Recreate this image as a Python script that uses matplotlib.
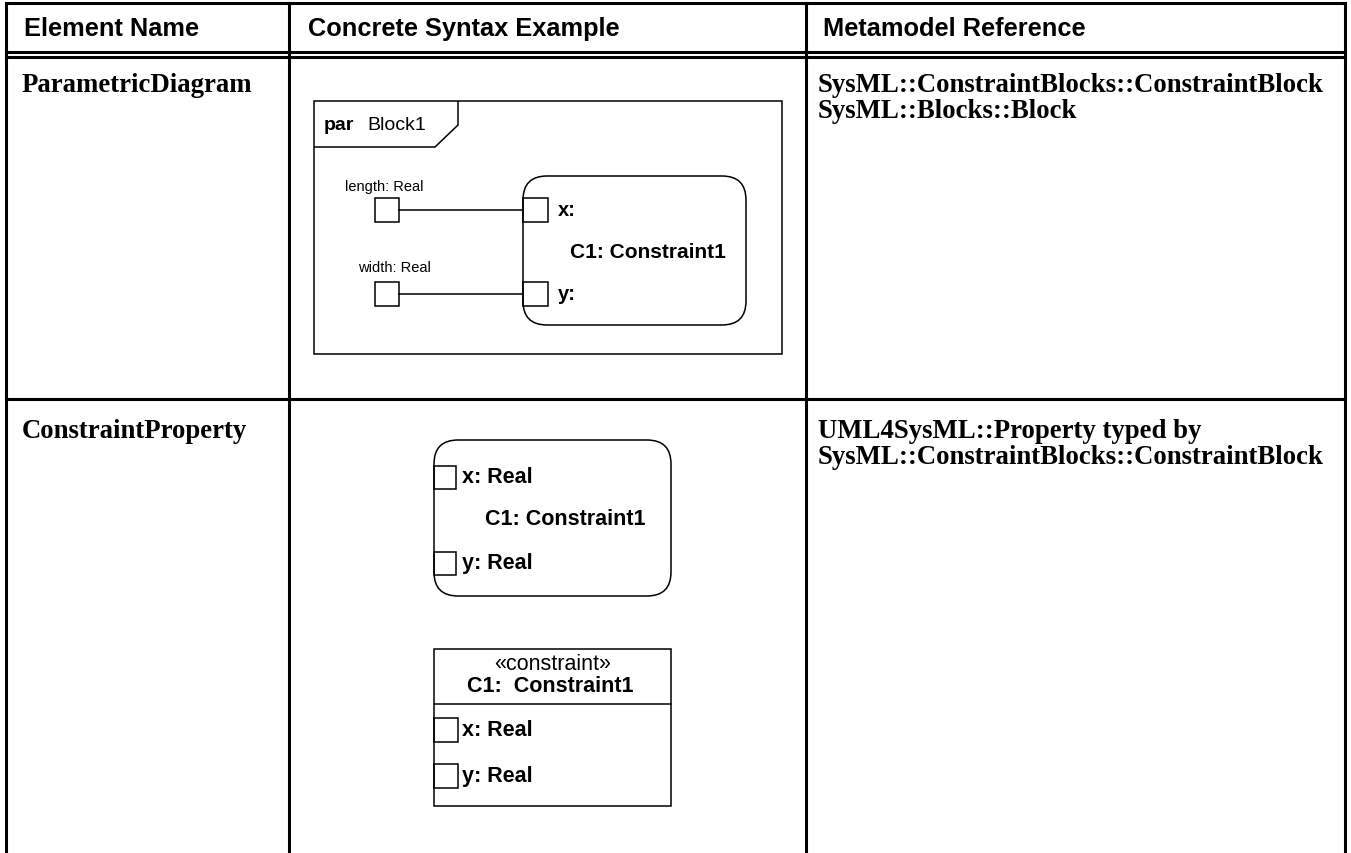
import matplotlib.pyplot as plt
from matplotlib.patches import Rectangle, FancyBboxPatch, Polygon

# table content
headers = ["Element Name", "Concrete Syntax Example", "Metamodel Reference"]
element_names = ["ParametricDiagram", "ConstraintProperty"]
metamodel_refs = [
    ["SysML::ConstraintBlocks::ConstraintBlock", "SysML::Blocks::Block"],
    ["UML4SysML::Property typed by", "SysML::ConstraintBlocks::ConstraintBlock"],
]

# diagram labels
frame_kind, frame_name = "par", "Block1"
outer_params = ["length: Real", "width: Real"]
inner_ports = ["x:", "y:"]
constraint_label = "C1: Constraint1"
typed_ports = ["x: Real", "y: Real"]
stereotype = "\u00abconstraint\u00bb"
compartment_label = "C1:  Constraint1"

SANS = "Liberation Sans"
SERIF = "Liberation Serif"
TBL_LW = 2.2
DIA_LW = 1.1
DIA_FS = 14.5
PROP_FS = 15.5

fig = plt.figure(figsize=(13.51, 8.54), dpi=100)
ax = fig.add_axes([0, 0, 1, 1])
ax.set_xlim(0, 1351)
ax.set_ylim(854, 0)
ax.axis("off")

# ---- table grid ----
col_x = [6, 289, 806, 1345]
for y in [4, 52.5, 57.5, 400]:
    ax.plot([col_x[0], col_x[-1]], [y, y], color="black", lw=TBL_LW, solid_capstyle="projecting")
for x in col_x:
    ax.plot([x, x], [4, 854], color="black", lw=TBL_LW, solid_capstyle="projecting")

head_x = [24, 308, 823]
for x, h in zip(head_x, headers):
    ax.text(x, 29, h, family=SANS, weight="bold", fontsize=18.3, va="center", ha="left")

row_y = [86, 432]
for y, name, refs in zip(row_y, element_names, metamodel_refs):
    ax.text(22, y, name, family=SERIF, weight="bold", fontsize=19.3, va="center", ha="left")
    for i, r in enumerate(refs):
        ax.text(818, y + i * 26, r, family=SERIF, weight="bold", fontsize=19.3,
                va="center", ha="left")

# ---- parametric diagram ----
ax.add_patch(Rectangle((314, 102), 468, 253, fill=False, lw=DIA_LW, ec="black"))
ax.add_patch(Polygon([(314, 148), (435, 148), (458, 126), (458, 102)], closed=False,
                     fill=False, lw=DIA_LW, ec="black"))
ax.text(324, 126, frame_kind, family=SANS, weight="bold", fontsize=14, va="center")
ax.text(367, 126, frame_name, family=SANS, fontsize=14, va="center")

ax.add_patch(FancyBboxPatch((523, 177), 223, 149, boxstyle="round,pad=0,rounding_size=24",
                            fill=False, lw=DIA_LW, ec="black"))
port_y = [211, 295]
label_y = [187, 268]
label_x = [384, 394]
for py, ly, lx, lab, pl in zip(port_y, label_y, label_x, outer_params, inner_ports):
    ax.add_patch(Rectangle((375, py - 12), 24, 24, fill=False, lw=DIA_LW, ec="black"))
    ax.plot([399, 523], [py, py], color="black", lw=DIA_LW)
    ax.add_patch(Rectangle((523, py - 12), 25, 24, fill=False, lw=DIA_LW, ec="black"))
    ax.text(lx, ly, lab, family=SANS, fontsize=10.5, ha="center", va="center")
    ax.text(558, py, pl, family=SANS, weight="bold", fontsize=DIA_FS, va="center")
ax.text(648, 252, constraint_label, family=SANS, weight="bold", fontsize=DIA_FS + 0.5,
        ha="center", va="center")

# ---- constraint property, rounded notation ----
ax.add_patch(FancyBboxPatch((434, 441), 237, 156, boxstyle="round,pad=0,rounding_size=24",
                            fill=False, lw=DIA_LW, ec="black"))
for py, lab in zip([478, 564], typed_ports):
    ax.add_patch(Rectangle((434, py - 11.5), 22, 23, fill=False, lw=DIA_LW, ec="black"))
    ax.text(462, py, lab, family=SANS, weight="bold", fontsize=PROP_FS, va="center")
ax.text(565, 520, constraint_label, family=SANS, weight="bold", fontsize=PROP_FS,
        ha="center", va="center")

# ---- constraint property, compartment notation ----
ax.add_patch(Rectangle((434, 650), 237, 157, fill=False, lw=DIA_LW, ec="black"))
ax.plot([434, 671], [705, 705], color="black", lw=DIA_LW)
ax.text(553, 665, stereotype, family=SANS, fontsize=PROP_FS, ha="center", va="center")
ax.text(550, 687, compartment_label, family=SANS, weight="bold", fontsize=PROP_FS,
        ha="center", va="center")
for py, lab in zip([731, 777], typed_ports):
    ax.add_patch(Rectangle((434, py - 12), 24, 24, fill=False, lw=DIA_LW, ec="black"))
    ax.text(462, py, lab, family=SANS, weight="bold", fontsize=PROP_FS, va="center")

fig.savefig("out.png", dpi=100)
